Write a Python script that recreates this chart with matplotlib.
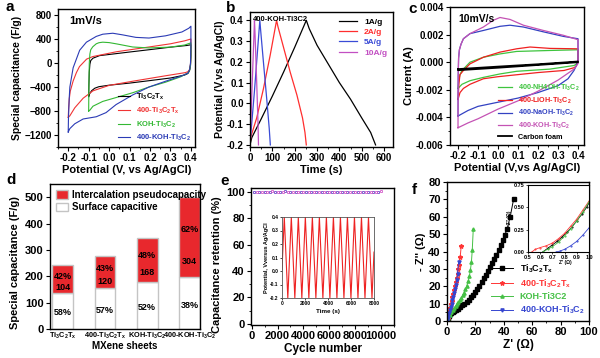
import numpy as np
import matplotlib
matplotlib.use('Agg')
import matplotlib.pyplot as plt
from matplotlib.ticker import MultipleLocator, FormatStrFormatter

plt.rcParams.update({
    'font.family': ['Liberation Sans', 'DejaVu Sans'],
    'font.weight': 'bold',
    'axes.labelweight': 'bold',
    'mathtext.fontset': 'custom',
    'mathtext.rm': 'Liberation Sans:bold',
    'mathtext.it': 'Liberation Sans:bold',
    'mathtext.bf': 'Liberation Sans:bold',
    'xtick.direction': 'out', 'ytick.direction': 'out',
    'xtick.major.size': 3, 'ytick.major.size': 3,
    'xtick.minor.size': 1.5, 'ytick.minor.size': 1.5,
    'xtick.major.width': 0.8, 'ytick.major.width': 0.8,
    'xtick.minor.width': 0.6, 'ytick.minor.width': 0.6,
    'xtick.major.pad': 1.5, 'ytick.major.pad': 1.5,
    'axes.linewidth': 1.0,
    'axes.labelpad': 1.5,
})

# ---------------- data ----------------
# (a) CV at 1 mV/s, F/g
a_labels = [r'Ti$_3$C$_2$T$_x$', r'400-Ti$_3$C$_2$T$_x$', r'KOH-Ti$_3$C$_2$', r'400-KOH-Ti$_3$C$_2$']
a_colors = ['black', '#f03434', '#33b833', '#2b3bb5']

a_ti_up_x = [-0.1, -0.099, -0.097, -0.094, -0.09, -0.079, -0.047, 0.0, 0.1, 0.2, 0.3, 0.38, 0.4]
a_ti_up_y = [-560, -380, -150, -20, 40, 80, 123, 142, 183, 223, 264, 292, 304]
a_ti_dn_x = [0.4, 0.398, 0.393, 0.385, 0.37, 0.35, 0.3, 0.2, 0.1, 0.0, -0.05, -0.07, -0.085, -0.095, -0.1]
a_ti_dn_y = [120, -40, -130, -175, -200, -215, -250, -293, -335, -370, -395, -420, -460, -510, -560]

a_400_up_x = [-0.2, -0.198, -0.195, -0.19, -0.176, -0.16, -0.145, -0.11, -0.08, 0.035, 0.195, 0.3, 0.37, 0.4]
a_400_up_y = [-905, -760, -600, -470, -300, -160, -60, 65, 107, 187, 267, 320, 370, 400]
a_400_dn_x = [0.4, 0.398, 0.393, 0.385, 0.373, 0.276, 0.115, 0.0, -0.079, -0.127, -0.168, -0.192, -0.2]
a_400_dn_y = [180, -20, -110, -145, -160, -213, -304, -373, -464, -587, -747, -880, -905]

a_koh_up_x = [-0.1, -0.099, -0.097, -0.094, -0.09, -0.08, -0.063, -0.05, -0.031, 0.0, 0.034, 0.115, 0.195, 0.3, 0.37, 0.4]
a_koh_up_y = [-800, -400, 0, 150, 220, 270, 320, 338, 347, 340, 320, 267, 251, 265, 300, 336]
a_koh_dn_x = [0.4, 0.398, 0.393, 0.385, 0.373, 0.35, 0.276, 0.195, 0.115, 0.034, -0.031, -0.079, -0.095, -0.1]
a_koh_dn_y = [150, -40, -130, -170, -187, -230, -320, -400, -496, -576, -640, -720, -790, -800]

a_4k_up_x = [-0.2, -0.199, -0.197, -0.195, -0.192, -0.176, -0.144, -0.111, -0.063, -0.031, 0.018, 0.066, 0.131, 0.195, 0.276, 0.356, 0.39, 0.4]
a_4k_up_y = [-1150, -950, -750, -580, -400, -80, 213, 347, 443, 480, 496, 469, 427, 416, 453, 517, 580, 613]
a_4k_dn_x = [0.4, 0.398, 0.394, 0.385, 0.356, 0.276, 0.195, 0.115, 0.034, -0.015, -0.063, -0.127, -0.168, -0.192, -0.2]
a_4k_dn_y = [250, 0, -110, -170, -213, -304, -400, -533, -693, -827, -896, -933, -1013, -1093, -1150]

# (b) GCD of 400-KOH-Ti3C2
b_labels = ['1A/g', '2A/g', '5A/g', '10A/g']
b_colors = ['black', '#ff2e2e', '#3a4bd6', '#c24fc2']
b_1_t = [0, 8, 50, 100, 150, 200, 252, 265, 300, 350, 400, 450, 500, 540, 562]
b_1_v = [-0.2, -0.165, -0.075, 0.035, 0.15, 0.27, 0.4, 0.36, 0.28, 0.19, 0.10, 0.02, -0.07, -0.14, -0.2]
b_2_t = [0, 4, 30, 60, 90, 119, 125, 150, 180, 210, 235, 246, 252]
b_2_v = [-0.2, -0.16, -0.07, 0.07, 0.23, 0.4, 0.37, 0.27, 0.15, 0.04, -0.07, -0.14, -0.2]
b_5_t = [0, 2, 20, 44, 47, 60, 75, 86, 91]
b_5_v = [-0.2, -0.17, 0.06, 0.4, 0.36, 0.2, 0.02, -0.12, -0.2]
b_10_t = [0, 1, 10, 20, 22, 30, 36, 38]
b_10_v = [-0.2, -0.17, 0.1, 0.4, 0.35, 0.1, -0.1, -0.2]

# (c) CV at 10 mV/s, A
c_labels = [r'400-NH4OH-Ti$_3$C$_2$', r'400-LiOH-Ti$_3$C$_2$', r'400-NaOH-Ti$_3$C$_2$',
            r'400-KOH-Ti$_3$C$_2$', 'Carbon foam']
c_colors = ['#3ec43e', '#f02020', '#3342c2', '#c452b4', 'black']

c_nh_up_x = [-0.2, -0.195, -0.19, -0.18, -0.14, -0.073, 0.01, 0.093, 0.26, 0.4]
c_nh_up_y = [-0.0019, -0.0012, -0.0009, -0.0006, 0.0, 0.00036, 0.0006, 0.00078, 0.00085, 0.0009]
c_nh_dn_x = [0.4, 0.39, 0.38, 0.26, 0.093, 0.01, -0.073, -0.14, -0.18, -0.2]
c_nh_dn_y = [0.0, -0.00015, -0.00024, -0.0005, -0.00066, -0.00085, -0.0011, -0.00134, -0.0016, -0.0019]

c_li_up_x = [-0.2, -0.195, -0.19, -0.173, -0.14, -0.073, 0.01, 0.093, 0.16, 0.26, 0.4]
c_li_up_y = [-0.0027, -0.0015, -0.0009, -0.0006, -0.00012, 0.00036, 0.00073, 0.00097, 0.0011, 0.001, 0.00097]
c_li_dn_x = [0.4, 0.39, 0.38, 0.33, 0.2, 0.1, 0.0, -0.073, -0.14, -0.173, -0.19, -0.2]
c_li_dn_y = [0.0, -0.0003, -0.0004, -0.0006, -0.00075, -0.0009, -0.00105, -0.0012, -0.0016, -0.0019, -0.0022, -0.0027]

c_na_up_x = [-0.2, -0.199, -0.197, -0.193, -0.185, -0.173, -0.14, -0.073, 0.01, 0.06, 0.127, 0.227, 0.327, 0.4]
c_na_up_y = [-0.0039, -0.001, 0.0003, 0.0009, 0.0013, 0.0017, 0.00207, 0.0023, 0.0026, 0.00268, 0.00255, 0.0022, 0.00187, 0.0017]
c_na_dn_x = [0.4, 0.39, 0.38, 0.35, 0.3, 0.2, 0.1, 0.0, -0.1, -0.15, -0.2]
c_na_dn_y = [0.0, -0.0003, -0.0006, -0.0012, -0.0017, -0.0022, -0.0026, -0.0029, -0.0032, -0.0035, -0.0039]

c_k_up_x = [-0.2, -0.199, -0.197, -0.193, -0.185, -0.173, -0.14, -0.073, -0.023, 0.01, 0.06, 0.127, 0.227, 0.327, 0.4]
c_k_up_y = [-0.00475, -0.001, 0.0003, 0.0009, 0.0013, 0.0017, 0.00207, 0.00255, 0.00304, 0.00324, 0.0031, 0.00268, 0.0023, 0.00195, 0.00163]
c_k_dn_x = [0.4, 0.39, 0.38, 0.3, 0.2, 0.1, 0.0, -0.1, -0.15, -0.2]
c_k_dn_y = [-0.0001, -0.0003, -0.0005, -0.0013, -0.0021, -0.0028, -0.0034, -0.0041, -0.0044, -0.00475]

c_cf_up_x = [-0.2, 0.0, 0.2, 0.4]
c_cf_up_y = [-0.0005, -0.00032, -0.00015, 0.00005]
c_cf_dn_x = [0.4, 0.2, 0.0, -0.2]
c_cf_dn_y = [0.0, -0.0002, -0.0004, -0.00058]

# (d) capacitance contributions
d_samples = [r'Ti$_3$C$_2$T$_x$', r'400-Ti$_3$C$_2$T$_x$', r'KOH-Ti$_3$C$_2$', r'400-KOH-Ti$_3$C$_2$']
d_surface = [138, 157, 179, 196]
d_pseudo = [104, 120, 168, 304]
d_pseudo_pct = ['42%', '43%', '48%', '62%']
d_surface_pct = ['58%', '57%', '52%', '38%']

# (e) cycling retention
e_cycles_a = [200, 600, 1000, 1400, 1800, 2200, 2600, 3000, 3400, 3800, 4200, 4600, 5000,
              5400, 5800, 6200, 6600, 7000, 7400, 7800, 8200, 8600, 9000, 9400, 9800]
e_ret_a = [100.3, 99.8, 100.1, 99.6, 100.2, 99.9, 100.4, 99.7, 100.0, 100.3, 99.8, 99.6, 100.2,
           99.9, 100.1, 99.7, 100.3, 99.9, 100.0, 99.6, 100.2, 99.8, 100.1, 99.9, 100.3]
e_cycles_b = [400, 800, 1200, 1600, 2000, 2400, 2800, 3200, 3600, 4000, 4400, 4800, 5200,
              5600, 6000, 6400, 6800, 7200, 7600, 8000, 8400, 8800, 9200, 9600, 10000]
e_ret_b = [99.7, 100.2, 99.9, 100.4, 99.8, 100.0, 99.6, 100.3, 99.9, 99.7, 100.2, 100.0, 99.8,
           100.3, 99.6, 100.1, 99.9, 100.2, 99.7, 100.0, 99.8, 100.3, 99.9, 100.1, 100.4]
e_in_t = [0, 200, 505, 810, 1115, 1420, 1725, 2030, 2335, 2640, 2945, 3250, 3555, 3860,
          4165, 4470, 4775, 5080, 5385, 5690, 5995, 6300, 6605, 6910, 7215, 7520, 7825, 8000]
e_in_v = [0.01, 0.4, -0.2, 0.4, -0.2, 0.4, -0.2, 0.4, -0.2, 0.4, -0.2, 0.4, -0.2, 0.4,
          -0.2, 0.4, -0.2, 0.4, -0.2, 0.4, -0.2, 0.4, -0.2, 0.4, -0.2, 0.4, -0.2, 0.14]

# (f) Nyquist
f_labels = [r'Ti$_3$C$_2$T$_x$', r'400-Ti$_3$C$_2$T$_x$', 'KOH-Ti3C2', r'400-KOH-Ti$_3$C$_2$']
f_colors = ['black', '#ff3535', '#45c045', '#3545d0']
f_markers = ['s', '*', '^', 'v']
f_ti_x = [0, 0.5, 1.0, 1.6, 2.3, 3.0, 4.0, 5.0, 6.3, 7.8, 9.3, 10.8, 12.3, 13.8, 15.3, 16.8, 18.3,
          19.8, 21.3, 22.8, 24.3, 25.8, 27.3, 28.8, 30.3, 31.8, 33.3, 34.8, 36.3, 37.8, 39.3,
          40.8, 42.3, 44.5, 47.0]
f_ti_y = [0, 1.2, 2.2, 3.1, 3.8, 4.4, 5.0, 5.6, 6.3, 7.1, 8.0, 9.0, 10.0, 11.1, 12.3, 13.6, 15.0,
          16.6, 18.4, 20.3, 22.3, 24.5, 26.6, 28.8, 31.0, 33.2, 35.6, 38.1, 40.8, 43.6, 46.5,
          49.6, 53.0, 60.0, 70.5]
f_400_x = [0, 0.5, 1.0, 1.5, 2.0, 2.6, 3.2, 3.8, 4.4, 5.0, 5.6, 6.2, 6.8, 7.4, 8.0, 8.6, 9.3, 10.0]
f_400_y = [0, 2.0, 4.0, 5.8, 7.6, 9.5, 11.6, 13.7, 15.8, 18.0, 20.2, 22.5, 24.8, 27.2, 29.8, 32.5, 37.0, 43.0]
f_koh_x = [0, 1.0, 2.0, 3.0, 4.0, 5.0, 6.0, 7.0, 8.0, 9.0, 10.0, 11.0, 12.0, 13.0, 14.0, 15.0,
           15.8, 16.5, 17.2, 17.8, 18.5]
f_koh_y = [0, 2.0, 3.6, 5.0, 6.2, 7.4, 8.6, 9.7, 10.9, 12.1, 13.4, 14.8, 16.4, 18.2, 20.3, 23.0,
           26.0, 29.5, 34.0, 41.0, 53.0]
f_4k_x = [0, 0.5, 1.0, 1.5, 2.0, 2.6, 3.2, 3.8, 4.4, 5.0, 5.6, 6.2, 6.8, 7.4, 8.2]
f_4k_y = [0, 1.6, 3.2, 4.7, 6.2, 8.0, 9.9, 11.9, 14.0, 16.2, 18.5, 21.0, 23.6, 27.0, 34.0]
fi_ti_x = [0.62, 0.66, 0.70, 0.74, 0.78, 0.82, 0.86, 0.90, 0.94, 0.98, 1.0]
fi_ti_y = [0.0, 0.04, 0.08, 0.12, 0.17, 0.22, 0.28, 0.35, 0.42, 0.50, 0.55]
fi_400_x = [0.53, 0.56, 0.60, 0.65, 0.70, 0.75, 0.80, 0.85, 0.90, 0.95, 1.0]
fi_400_y = [0.0, 0.03, 0.05, 0.07, 0.10, 0.15, 0.21, 0.29, 0.37, 0.47, 0.57]
fi_koh_x = [0.62, 0.66, 0.70, 0.75, 0.80, 0.85, 0.90, 0.95, 1.0]
fi_koh_y = [0.0, 0.03, 0.06, 0.11, 0.18, 0.26, 0.35, 0.45, 0.56]
fi_4k_x = [0.73, 0.76, 0.80, 0.85, 0.90, 0.95, 1.0]
fi_4k_y = [0.0, 0.01, 0.03, 0.07, 0.12, 0.19, 0.27]


def loop(ux, uy, dx, dy):
    return ux + dx + [ux[0]], uy + dy + [uy[0]]


def style(ax, fs=7):
    ax.tick_params(axis='both', which='both', labelsize=fs, top=False, right=False)
    for lab in ax.get_xticklabels() + ax.get_yticklabels():
        lab.set_fontweight('bold')


fig = plt.figure(figsize=(6.0, 3.58), dpi=100)

# ---------------- (a) ----------------
ax = fig.add_axes([58 / 600, 1 - 147 / 358, 137 / 600, 138 / 358])
curves_a = [loop(a_ti_up_x, a_ti_up_y, a_ti_dn_x, a_ti_dn_y),
            loop(a_400_up_x, a_400_up_y, a_400_dn_x, a_400_dn_y),
            loop(a_koh_up_x, a_koh_up_y, a_koh_dn_x, a_koh_dn_y),
            loop(a_4k_up_x, a_4k_up_y, a_4k_dn_x, a_4k_dn_y)]
for (x, y), c, lab in zip(curves_a, a_colors, a_labels):
    ax.plot(x, y, color=c, lw=0.8, label=lab)
ax.set_xlim(-0.25, 0.42)
ax.set_ylim(-1400, 900)
ax.xaxis.set_major_locator(MultipleLocator(0.1))
ax.xaxis.set_minor_locator(MultipleLocator(0.05))
ax.yaxis.set_major_locator(MultipleLocator(400))
ax.yaxis.set_minor_locator(MultipleLocator(200))
ax.xaxis.set_major_formatter(FormatStrFormatter('%.1f'))
ax.set_xlabel('Potential (V, vs Ag/AgCl)', fontsize=8)
ax.set_ylabel('Special capacitance (F/g)', fontsize=7.5)
ax.text(0.08, 0.95, '1mV/s', transform=ax.transAxes, fontsize=8, va='top')
ax.legend(loc='lower right', fontsize=5.5, frameon=False, handlelength=1.6,
          labelspacing=0.45, borderaxespad=0.1, labelcolor=['black', a_colors[1], a_colors[2], a_colors[3]])
style(ax)

# ---------------- (b) ----------------
ax = fig.add_axes([250 / 600, 1 - 147 / 358, 143 / 600, 135 / 358])
for t, v, c, lab in zip([b_1_t, b_2_t, b_5_t, b_10_t], [b_1_v, b_2_v, b_5_v, b_10_v], b_colors, b_labels):
    ax.plot(t, v, color=c, lw=0.9, label=lab)
ax.set_xlim(0, 640)
ax.set_ylim(-0.21, 0.44)
ax.xaxis.set_major_locator(MultipleLocator(100))
ax.xaxis.set_minor_locator(MultipleLocator(50))
ax.yaxis.set_major_locator(MultipleLocator(0.1))
ax.yaxis.set_minor_locator(MultipleLocator(0.05))
ax.yaxis.set_major_formatter(FormatStrFormatter('%.1f'))
ax.set_xlabel('Time (s)', fontsize=8)
ax.set_ylabel('Potential (V,vs Ag/AgCl)', fontsize=7.5)
ax.text(0.02, 0.97, '400-KOH-Ti3C2', transform=ax.transAxes, fontsize=5.5, va='top')
ax.legend(loc='upper right', fontsize=6, frameon=False, handlelength=2.2,
          labelspacing=0.3, borderaxespad=0.3, labelcolor='linecolor')
style(ax)

# ---------------- (c) ----------------
ax = fig.add_axes([450 / 600, 1 - 145 / 358, 134 / 600, 138 / 358])
curves_c = [loop(c_nh_up_x, c_nh_up_y, c_nh_dn_x, c_nh_dn_y),
            loop(c_li_up_x, c_li_up_y, c_li_dn_x, c_li_dn_y),
            loop(c_na_up_x, c_na_up_y, c_na_dn_x, c_na_dn_y),
            loop(c_k_up_x, c_k_up_y, c_k_dn_x, c_k_dn_y),
            loop(c_cf_up_x, c_cf_up_y, c_cf_dn_x, c_cf_dn_y)]
for (x, y), c, lab in zip(curves_c, c_colors, c_labels):
    ax.plot(x, y, color=c, lw=1.3 if c == 'black' else 0.9, label=lab)
ax.set_xlim(-0.24, 0.43)
ax.set_ylim(-0.006, 0.004)
ax.xaxis.set_major_locator(MultipleLocator(0.1))
ax.xaxis.set_minor_locator(MultipleLocator(0.05))
ax.yaxis.set_major_locator(MultipleLocator(0.002))
ax.yaxis.set_minor_locator(MultipleLocator(0.001))
ax.xaxis.set_major_formatter(FormatStrFormatter('%.1f'))
ax.yaxis.set_major_formatter(FormatStrFormatter('%.3f'))
ax.set_xlabel('Potential (V,vs Ag/AgCl)', fontsize=8)
ax.set_ylabel('Current (A)', fontsize=8)
ax.text(0.06, 0.95, '10mV/s', transform=ax.transAxes, fontsize=7.5, va='top')
ax.legend(loc='lower right', fontsize=5.2, frameon=False, handlelength=2.0,
          labelspacing=0.35, borderaxespad=0.2, labelcolor='linecolor')
style(ax)

# ---------------- (d) ----------------
ax = fig.add_axes([50 / 600, 1 - 329 / 358, 150 / 600, 145 / 358])
pos = np.arange(len(d_samples))
ax.bar(pos, d_surface, width=0.49, color='white', edgecolor='#c4c4c4', lw=1.0, label='Surface capacitive')
ax.bar(pos, d_pseudo, width=0.49, bottom=d_surface, color='#e8282d', edgecolor='#c4c4c4', lw=1.0,
       label='Intercalation pseudocapacity')
for i in range(len(pos)):
    ax.text(pos[i], d_surface[i] + 0.6 * d_pseudo[i], d_pseudo_pct[i], ha='center', va='center', fontsize=6.5)
    ax.text(pos[i], d_surface[i] + 0.2 * d_pseudo[i], str(d_pseudo[i]), ha='center', va='center', fontsize=6.5)
    ax.text(pos[i], 0.45 * d_surface[i], d_surface_pct[i], ha='center', va='center', fontsize=6.5)
ax.set_xlim(-0.3, 3.25)
ax.set_ylim(0, 550)
ax.set_xticks(pos)
ax.set_xticklabels(d_samples)
ax.yaxis.set_major_locator(MultipleLocator(100))
ax.set_xlabel('MXene sheets', fontsize=7, labelpad=0)
ax.set_ylabel('Special capacitance (F/g)', fontsize=8)
ax.yaxis.set_label_coords(-0.2, 0.46)
h, l = ax.get_legend_handles_labels()
ax.legend(h[::-1], l[::-1], loc='upper left', fontsize=7, frameon=False, handlelength=1.3,
          handleheight=0.9, labelspacing=0.25, borderaxespad=0.2, handletextpad=0.4)
style(ax, 8)
ax.tick_params(axis='x', labelsize=5.3, length=0)

# ---------------- (e) ----------------
ax = fig.add_axes([251 / 600, 1 - 325 / 358, 143 / 600, 137 / 358])
ax.plot(e_cycles_a, e_ret_a, ls='none', marker='s', ms=1.4, mfc='none', mec='#6b46c8', mew=0.6)
ax.plot(e_cycles_b, e_ret_b, ls='none', marker='s', ms=1.4, mfc='none', mec='#d25ac8', mew=0.6)
ax.set_xlim(-50, 11000)
ax.set_ylim(-1, 103)
ax.xaxis.set_major_locator(MultipleLocator(2000))
ax.xaxis.set_minor_locator(MultipleLocator(1000))
ax.yaxis.set_major_locator(MultipleLocator(20))
ax.yaxis.set_minor_locator(MultipleLocator(10))
ax.set_xlabel('Cycle number', fontsize=8.5)
ax.set_ylabel('Capacitance retention (%)', fontsize=8)
ax.yaxis.set_label_coords(-0.2, 0.44)
style(ax, 8)
axi = fig.add_axes([282 / 600, 1 - 298 / 358, 92 / 600, 81 / 358])
axi.plot(e_in_t, e_in_v, color='#ee2222', lw=0.8)
axi.set_xlim(0, 8000)
axi.set_ylim(-0.2, 0.4)
axi.xaxis.set_major_locator(MultipleLocator(2000))
axi.yaxis.set_major_locator(MultipleLocator(0.1))
axi.yaxis.set_major_formatter(FormatStrFormatter('%.1f'))
axi.tick_params(labelsize=3.5, length=1.5, width=0.5, pad=1)
for s in axi.spines.values():
    s.set_linewidth(0.6)
    s.set_color('#555555')
axi.set_xlabel('Time (s)', fontsize=4.5, labelpad=1.5)
axi.set_ylabel('Potential, Vversus Ag/AgCl', fontsize=4, labelpad=1)

# ---------------- (f) ----------------
ax = fig.add_axes([447 / 600, 1 - 321 / 358, 142 / 600, 139 / 358])
series_f = [(f_ti_x, f_ti_y), (f_400_x, f_400_y), (f_koh_x, f_koh_y), (f_4k_x, f_4k_y)]
for (x, y), c, m, lab in zip(series_f, f_colors, f_markers, f_labels):
    ax.plot(x, y, color=c, lw=0.7, marker=m, ms=2.3 if m != '*' else 3.2, label=lab)
ax.set_xlim(0, 100)
ax.set_ylim(0, 80)
ax.xaxis.set_major_locator(MultipleLocator(20))
ax.xaxis.set_minor_locator(MultipleLocator(10))
ax.yaxis.set_major_locator(MultipleLocator(10))
ax.yaxis.set_minor_locator(MultipleLocator(5))
ax.set_xlabel("Z' (Ω)", fontsize=8.5)
ax.set_ylabel("- Z'' (Ω)", fontsize=8)
ax.legend(loc='lower right', fontsize=6.5, frameon=False, handlelength=2.4,
          labelspacing=0.28, borderaxespad=0.1, bbox_to_anchor=(1.0, 0.0), labelcolor='linecolor')
style(ax, 8)
axi = fig.add_axes([528 / 600, 1 - 252 / 358, 61 / 600, 67 / 358])
series_fi = [(fi_ti_x, fi_ti_y), (fi_400_x, fi_400_y), (fi_koh_x, fi_koh_y), (fi_4k_x, fi_4k_y)]
for (x, y), c in zip(series_fi, f_colors):
    axi.plot(x, y, color=c, lw=0.6, marker='.', ms=1.0)
axi.set_xlim(0.5, 1.0)
axi.set_ylim(0, 0.75)
axi.xaxis.set_major_locator(MultipleLocator(0.1))
axi.yaxis.set_major_locator(MultipleLocator(0.25))
axi.xaxis.set_major_formatter(FormatStrFormatter('%.1f'))
axi.yaxis.set_major_formatter(FormatStrFormatter('%.2f'))
axi.tick_params(labelsize=4, length=1.5, width=0.5, pad=1)
for s in axi.spines.values():
    s.set_linewidth(0.8)
axi.set_xlabel("Z' (Ω)", fontsize=3.5, labelpad=0)
axi.xaxis.set_label_coords(0.62, -0.12)
axi.set_ylabel("-Z'' (Ω)", fontsize=3.5, labelpad=1)

# panel letters
for letter, x, y in [('a', 5, 7), ('b', 226, 8), ('c', 408, 9), ('d', 6, 180), ('e', 220, 181), ('f', 412, 190)]:
    fig.text(x / 600, 1 - y / 358, letter, fontsize=11, fontweight='bold', va='center')

fig.savefig('out.png', dpi=100)
